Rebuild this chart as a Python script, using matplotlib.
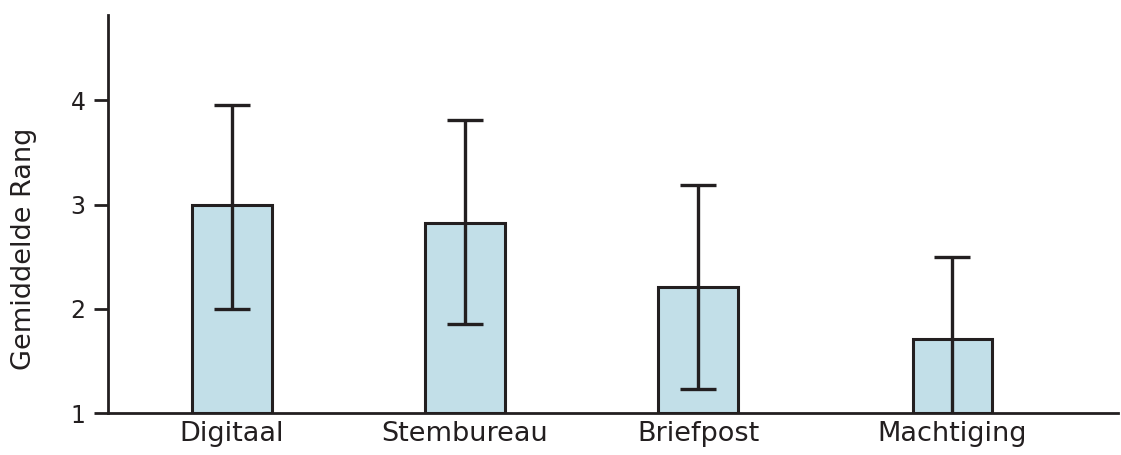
import numpy as np
import matplotlib.pyplot as plt

plt.rcParams['font.family'] = ['DejaVu Sans']

categories = ["Digitaal", "Stembureau", "Briefpost", "Machtiging"]
gemiddelde = [3.00, 2.82, 2.21, 1.71]
fout_boven = [0.96, 0.99, 0.98, 0.79]
fout_onder = [1.00, 0.97, 0.98, 0.79]
posities = [0, 1, 2, 3.09]

donker = "#231f20"

fig = plt.figure(figsize=(11.21, 4.55), dpi=100)
ax = fig.add_axes([0.0963, 0.0923, 0.9007, 0.8747])

hoogte = np.array(gemiddelde) - 1
ax.bar(posities, hoogte, bottom=1, width=0.34, color="#c2dfe8",
       edgecolor=donker, linewidth=2.2, zorder=2)
ax.errorbar(posities, gemiddelde, yerr=[fout_onder, fout_boven], fmt="none",
            ecolor=donker, elinewidth=2.4, capsize=13, capthick=2.4, zorder=3)

ax.set_xlim(-0.532, 3.80)
ax.set_ylim(1, 4.82)
ax.set_yticks([1, 2, 3, 4])
ax.set_xticks(posities)
ax.set_xticklabels(categories, fontsize=19.5, color=donker)
ax.tick_params(axis="x", length=0, pad=6)
ax.tick_params(axis="y", length=10, width=2, color=donker, labelsize=17,
               labelcolor=donker, pad=6)
ax.set_ylabel("Gemiddelde Rang", fontsize=19.5, color=donker)
ax.yaxis.set_label_coords(-0.070, 0.412)

for s in ["top", "right"]:
    ax.spines[s].set_visible(False)
for s in ["left", "bottom"]:
    ax.spines[s].set_linewidth(2)
    ax.spines[s].set_color(donker)

fig.savefig("out.png", dpi=100)
